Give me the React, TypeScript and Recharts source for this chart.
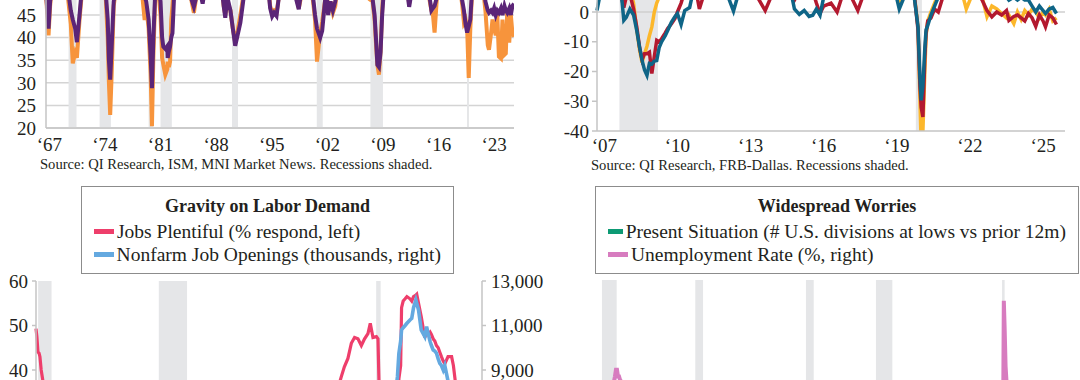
import React from 'react';
import { LineChart, Line, XAxis, YAxis, CartesianGrid, ReferenceArea, ReferenceLine, Legend } from 'recharts';

const FONT = "'Liberation Serif', 'Times New Roman', serif";
const INK = '#231f20';
const AXIS = '#c4c4c4';
const SHADE = '#e5e6e8';

// NBER recessions, decimal years
const recessionStart = [1969.92, 1973.83, 1980.0, 1981.5, 1990.5, 2001.17, 2007.92, 2020.08];
const recessionEnd = [1970.92, 1975.25, 1980.58, 1982.92, 1991.25, 2001.92, 2009.5, 2020.33];

// top left: ISM panel (orange / purple)
const tlTickYears = [1967, 1974, 1981, 1988, 1995, 2002, 2009, 2016, 2023];
const tlYears = [
  1967.1, 1967.25, 1967.4, 1967.6, 1967.9, 1968.5, 1969.2, 1969.6, 1969.9, 1970.2,
  1970.45, 1970.75, 1970.97, 1971.3, 1971.6, 1972.3, 1972.9, 1973.5, 1974.2, 1974.6,
  1974.85, 1975.0, 1975.16, 1975.35, 1975.6, 1976.0, 1976.8, 1977.5, 1978.3, 1979.0,
  1979.5, 1979.7, 1980.0, 1980.25, 1980.42, 1980.6, 1980.83, 1981.2, 1981.5, 1981.7,
  1981.85, 1982.1, 1982.35, 1982.4, 1982.55, 1982.7, 1982.85, 1983.0, 1983.2, 1983.8,
  1984.6, 1985.3, 1985.7, 1986.0, 1986.5, 1986.8, 1987.2, 1987.8, 1988.5, 1989.2,
  1989.45, 1989.65, 1989.9, 1990.3, 1990.6, 1990.9, 1991.2, 1991.55, 1991.9, 1992.2,
  1993.0, 1993.6, 1994.3, 1995.0, 1995.3, 1995.55, 1995.8, 1996.1, 1996.4, 1997.0,
  1997.8, 1998.5, 1998.9, 1999.2, 1999.8, 2000.4, 2000.7, 2000.95, 2001.2, 2001.4,
  2001.6, 2001.85, 2002.2, 2002.4, 2002.6, 2002.9, 2003.2, 2003.5, 2003.8, 2004.5,
  2005.5, 2006.5, 2007.3, 2007.8, 2008.2, 2008.45, 2008.65, 2008.8, 2009.0, 2009.2,
  2009.4, 2009.6, 2010.2, 2011.0, 2011.8, 2012.5, 2012.8, 2013.1, 2013.8, 2014.6,
  2015.3, 2015.6, 2015.8, 2016.0, 2016.3, 2016.8, 2017.6, 2018.5, 2019.2, 2019.5,
  2019.7, 2019.9, 2020.1, 2020.3, 2020.5, 2020.7, 2021.0, 2021.6, 2022.1, 2022.4,
  2022.7, 2022.85, 2023.1, 2023.3, 2023.5, 2023.7, 2023.9, 2024.1, 2024.35, 2024.55,
  2024.8, 2024.97, 2025.15, 2025.4, 2025.6, 2025.8, 2026.0,
];
const tlOrange = [
  49, 45, 40.5, 47, 53, 56, 58, 52, 48, 43,
  34.3, 36.6, 35.5, 43.9, 50, 57, 60, 62, 58, 49,
  40, 30, 22.9, 32, 47, 52, 55, 57, 56, 53,
  43.9, 47, 42, 32, 20.4, 36, 49, 51, 45, 35.5,
  34, 31.8, 33, 34.7, 33.5, 34.7, 43.9, 47, 52, 60,
  55, 49, 45.5, 49, 51, 48, 52, 57, 58, 52,
  47, 45, 48, 46, 42, 39, 41.5, 45, 49, 53,
  52, 50, 56, 53, 47, 45.5, 46, 45.5, 49, 52,
  54, 50, 46.5, 49, 53, 52, 48, 44, 34.7, 38,
  41, 43.5, 48, 51, 45.5, 48, 45.5, 47, 52, 58,
  55, 52, 50, 48.5, 48, 44, 38, 34, 31.8, 37,
  46, 52, 58, 62, 54, 52, 47.5, 51, 55, 57,
  49, 46, 45, 41.1, 49, 52, 57, 56, 51, 47,
  43.3, 44, 42, 31.1, 42, 49, 53, 55, 51, 46,
  38.3, 37.3, 40.8, 44, 42, 40.5, 45, 35.8, 35.4, 44,
  36.2, 36.5, 46, 38.9, 45, 41, 40.2,
];
const tlPurple = [
  50, 46, 42, 48, 52, 55, 57, 53, 50, 46,
  44, 42, 39, 45, 51, 56, 58, 60, 57, 50,
  44, 35, 30.7, 38, 48, 52, 54, 56, 55, 54,
  49, 48, 44, 36, 28.8, 40, 50, 52, 48, 40,
  38, 37.5, 38.1, 35.5, 37, 38, 40, 41, 49, 58,
  54, 49, 46.8, 49, 50, 47.5, 52, 56, 57, 51,
  47, 44.4, 49, 46, 42, 38.2, 40.5, 43.3, 48, 52,
  51, 50, 55, 52, 46.5, 44.7, 45.5, 44.8, 49, 52,
  53, 49, 46.3, 50, 53, 51, 49, 45, 42, 41,
  40, 41.5, 48, 50, 45, 48, 46, 48, 52, 57,
  54, 52, 50, 49, 48.5, 45, 39, 34, 33.5, 36.8,
  45, 50, 56, 60, 53, 51, 46.8, 50, 54, 56,
  50, 46, 46.5, 47, 49, 51, 56, 55, 51, 48,
  46, 43, 41.1, 42.5, 44, 50, 54, 56, 53, 48,
  46, 45.5, 46, 45.5, 46.5, 45, 46, 45.5, 46.5, 45,
  47, 46, 45.5, 46.5, 45, 47, 47.5,
];

// top right: FRB-Dallas panel (yellow / red / teal)
const trTickYears = [2007, 2010, 2013, 2016, 2019, 2022, 2025];
const trYears = [
  2007.0, 2007.2, 2007.5, 2007.8, 2008.0, 2008.1, 2008.2, 2008.35, 2008.5, 2008.63,
  2008.75, 2008.85, 2008.95, 2009.05, 2009.15, 2009.25, 2009.35, 2009.45, 2009.55, 2009.65,
  2009.8, 2009.9, 2010.05, 2010.2, 2010.3, 2010.45, 2010.6, 2010.8, 2011.0, 2011.2,
  2011.5, 2011.8, 2012.2, 2012.6, 2012.9, 2013.3, 2013.9, 2014.4, 2014.9, 2015.1,
  2015.3, 2015.5, 2015.7, 2015.85, 2016.0, 2016.15, 2016.3, 2016.6, 2016.85, 2017.2,
  2017.7, 2018.2, 2018.8, 2019.2, 2019.4, 2019.7, 2020.0, 2020.17, 2020.25, 2020.3,
  2020.37, 2020.45, 2020.5, 2020.57, 2020.7, 2020.85, 2021.0, 2021.3, 2021.8, 2022.15,
  2022.5, 2022.8, 2023.0, 2023.2, 2023.4, 2023.6, 2023.8, 2023.9, 2024.1, 2024.25,
  2024.4, 2024.55, 2024.7, 2024.85, 2025.0, 2025.15, 2025.3, 2025.4, 2025.55, 2025.7,
  2025.85,
];
const trYellow = [
  10, 14, 12, 10, 9, 8, 9, 8, 3, -6,
  -13, -17, -14, -11.5, -8, -5, 0, 3, 5, 6,
  7, 5, 6, 8, 9, 10, 9, 10, 12, 14,
  12, 11, 10, 9, 10, 11, 12, 14, 11, 7,
  8, 9, 8, 9, 8, 7, 9, 11, 10, 12,
  12, 14, 12, 9, 3.5, 8, 7, -5, -30, -44,
  -40, -20, -8, -3, 0, 3, 6, 10, 12, 1,
  8, 5, -1.6, 2, 1, -0.5, -2, -1, -3.9, 0,
  -2.5, 0.5, -1, 1, 0, -2, 0, -1, 1, -3,
  -2,
];
const trRed = [
  9, 12, 11, 8, 5, 1.5, 5, 6, 1, -5,
  -12, -16, -14, -14, -13.5, -20.7, -15, -9.5, -10, -9,
  -7, -5.5, -4, -2.2, 0, 3, 7, 9, 10, 1,
  9, 10, 9, 8, 9, 9, 0.5, 10, 9, 4,
  7, 6, 5, 7, 3, -0.5, 2, 3, 0, 9,
  0.5, 12, 10, 9, 6, 8, 7, -6, -25, -32,
  -35.3, -15, -7.2, -3, -2, 1, 0, 8, 10, 9,
  8, 4, 0.5, -1.6, 0, -1, 0.5, -2.8, -1.5, -1,
  -2, -3, -0.5, -2, -4.8, -1, -3, -5, -1, -2,
  -4.2,
];
const trTeal = [
  0.5, 9, 10, 8, 6, -2.8, -1.8, 1, -1, -6.2,
  -12, -16.3, -19.5, -21.3, -17.3, -17.5, -16.5, -16.3, -12, -10,
  -8, -6.2, -3.5, -1.5, -0.5, -4.2, 0.5, 1.5, 9, 10,
  9, 10, 9, 0.3, 9, 10, 9, 12, 9, 1,
  -0.8, 0.5, -1.5, -1.1, 1, -1.1, 5, 8, 7, 10,
  10, 12, 11, 8, 1, 7, 6, -5, -22, -29.7,
  -25, -12, -6, -4.5, -1, 2, 5, 9, 11, 9,
  9, 7, 6, 7, 5, 6, 5, 4, 5, 4,
  5, 4, 4, 2, 0, 2, 0.5, -0.5, 1, 1.5,
  -0.5,
];

// bottom left: Gravity on Labor Demand
const blTickYears = [2001, 2004, 2007, 2010, 2013, 2016, 2019, 2022, 2025];
const blYears = [
  2001.05, 2001.1, 2001.16, 2001.22, 2001.27, 2001.34, 2001.42, 2001.6, 2001.9, 2002.4,
  2003.0, 2003.8, 2004.5, 2005.5, 2006.5, 2007.3, 2007.9, 2008.5, 2009.2, 2009.6,
  2010.5, 2011.5, 2012.5, 2013.5, 2014.5, 2015.5, 2016.5, 2017.5, 2017.95, 2018.13,
  2018.3, 2018.5, 2018.69, 2018.87, 2019.06, 2019.25, 2019.43, 2019.62, 2019.75, 2019.9,
  2020.09, 2020.18, 2020.28, 2020.4, 2020.7, 2021.0, 2021.27, 2021.35, 2021.45, 2021.5,
  2021.59, 2021.7, 2021.8, 2021.97, 2022.07, 2022.17, 2022.3, 2022.35, 2022.45, 2022.6,
  2022.8, 2022.9, 2023.0, 2023.1, 2023.17, 2023.27, 2023.36, 2023.45, 2023.55, 2023.64,
  2023.73, 2023.83, 2023.92, 2024.1, 2024.3, 2024.4, 2024.55, 2024.8, 2025.1, 2025.4,
  2025.8,
];
const blJobsPlentiful = [
  49.3, 47.5, 44, 43.8, 43, 40, 38, 33, 26, 19,
  13, 11, 15, 20, 25, 28, 24, 15, 6, 4,
  4.5, 6, 8, 11, 15, 22, 25, 30, 36, 38.5,
  40.7, 42.6, 46, 47.3, 47, 45.5, 47, 48.2, 50.5, 47.3,
  47.5, 47, 30, 19, 20, 24, 33, 38, 41, 54,
  55.5, 56, 56.5, 56, 55.5, 56.5, 56.8, 57, 55, 52,
  47.3, 48.5, 48, 48.5, 48, 47, 46.5, 45.5, 45, 44,
  43, 42, 41.4, 43, 43, 41, 36, 34, 32, 31,
  29,
];
const blJobOpenings = [
  4800, 4700, 4600, 4500, 4400, 4200, 4000, 3800, 3500, 3300,
  3200, 3100, 3500, 3900, 4300, 4500, 4400, 3700, 2700, 2300,
  2800, 3100, 3600, 3900, 4800, 5500, 5600, 6000, 6500, 6700,
  6900, 7000, 7200, 7400, 7300, 7300, 7400, 7200, 7300, 7000,
  6900, 6800, 5000, 4600, 6200, 6800, 8700, 9750, 10300, 10800,
  10900, 11000, 11100, 11250, 11320, 11800, 12150, 12000, 11700, 10800,
  10500, 10950, 10600, 10270, 10100, 9900, 9850, 9760, 9500, 9300,
  9200, 9000, 9200, 8500, 8300, 8200, 8000, 7700, 7600, 7400,
  7200,
];

// bottom right: Widespread Worries
const brTickYears = [1982, 1989, 1996, 2003, 2010, 2017, 2024];
const brYears = [
  1980.54, 1981.0, 1981.5, 1981.9, 1982.2, 1982.5, 1982.65, 1982.75, 1982.85, 1982.95,
  1983.05, 1983.15, 1983.25, 1983.4, 1983.55, 1984.0, 1985.0, 1986.0, 1987.0, 1988.0,
  1989.0, 1990.0, 1990.8, 1991.5, 1992.5, 1993.5, 1994.5, 1995.5, 1997.0, 1998.5,
  2000.0, 2001.5, 2002.5, 2003.5, 2004.5, 2006.0, 2007.0, 2008.0, 2008.9, 2009.5,
  2009.8, 2010.5, 2011.5, 2012.5, 2013.5, 2014.5, 2015.5, 2016.5, 2017.5, 2018.5,
  2019.5, 2020.15, 2020.25, 2020.33, 2020.42, 2020.5, 2020.7, 2021.0, 2021.5, 2022.0,
  2022.5, 2023.5, 2024.5, 2025.5, 2025.86,
];
const brUnemployment = [
  7.8, 7.5, 7.2, 8.3, 9.0, 9.6, 10.1, 10.4, 10.8, 10.8,
  10.4, 10.4, 10.2, 10.1, 9.4, 8.0, 7.3, 6.9, 6.6, 5.7,
  5.4, 5.4, 6.2, 6.8, 7.8, 6.9, 6.1, 5.6, 5.2, 4.5,
  4.0, 4.6, 5.8, 6.3, 5.5, 4.7, 4.5, 5.0, 6.8, 9.5,
  9.9, 9.4, 9.0, 8.2, 7.5, 6.2, 5.3, 4.9, 4.3, 3.8,
  3.6, 4.4, 14.8, 13.2, 11.0, 10.2, 7.8, 6.4, 5.9, 4.0,
  3.6, 3.6, 4.2, 4.2, 4.3,
];
const brPresent = [
  6, 5, 7, 8, 8, 7, 7, 6, 6, 5,
  5, 4, 4, 3, 3, 2, 2, 2, 3, 1,
  1, 2, 4, 6, 5, 3, 2, 1, 1, 1,
  1, 4, 5, 4, 2, 1, 1, 3, 7, 8,
  7, 5, 3, 2, 2, 1, 2, 3, 1, 1,
  1, 2, 9, 8, 6, 5, 4, 2, 1, 1,
  1, 2, 3, 4, 4,
];

const tlData = tlYears.map((year, i) => ({ year, orange: tlOrange[i], purple: tlPurple[i] }));
const trData = trYears.map((year, i) => ({ year, yellow: trYellow[i], red: trRed[i], teal: trTeal[i] }));
const blData = blYears.map((year, i) => ({ year, plentiful: blJobsPlentiful[i], openings: blJobOpenings[i] }));
const brData = brYears.map((year, i) => ({ year, present: brPresent[i], unemp: brUnemployment[i] }));

const yearLabel = (v: number) => '\u2018' + String(Math.floor(v)).slice(2);
const tickStyle = { fill: INK, fontSize: 19, fontFamily: FONT };

const recessionAreas = (yAxisId?: string) =>
  recessionStart.map((start, i) => (
    <ReferenceArea
      key={`rec-${i}`}
      x1={start}
      x2={recessionEnd[i]}
      yAxisId={yAxisId}
      fill={SHADE}
      fillOpacity={1}
      stroke="none"
      ifOverflow="discard"
    />
  ));

const BoxLegend = ({ title, payload }: { title: string; payload?: any[] }) => (
  <div
    style={{
      boxSizing: 'border-box',
      height: 88,
      border: '1.5px solid #8c8c8c',
      background: '#fff',
      padding: '7px 12px 0',
      fontFamily: FONT,
      color: INK,
    }}
  >
    <div style={{ textAlign: 'center', fontWeight: 700, fontSize: 18, lineHeight: '24px', marginBottom: 2 }}>{title}</div>
    {(payload || []).map((p) => (
      <div key={p.value} style={{ display: 'flex', alignItems: 'center', fontSize: 19.5, lineHeight: '23px', whiteSpace: 'nowrap' }}>
        <span style={{ display: 'inline-block', width: 20, height: 4.5, background: p.color, marginRight: 3 }} />
        {p.value}
      </div>
    ))}
  </div>
);

const sourceStyle: React.CSSProperties = {
  position: 'absolute',
  fontFamily: FONT,
  fontSize: 14.6,
  lineHeight: '16px',
  color: INK,
  whiteSpace: 'nowrap',
};

export default function App() {
  return (
    <div style={{ position: 'absolute', left: 0, top: 0, width: 1080, height: 380, overflow: 'hidden', background: '#fff' }}>
      {/* top left */}
      <div style={{ position: 'absolute', left: 0, top: -98 }}>
        <LineChart width={514} height={256} data={tlData} margin={{ top: 0, right: 0, bottom: 0, left: 0 }}>
          <CartesianGrid vertical={false} stroke="#d4d4d4" strokeWidth={1.5} />
          {recessionAreas()}
          <XAxis
            type="number"
            dataKey="year"
            domain={[1967.08, 2026]}
            ticks={tlTickYears.map((y) => y + 0.5)}
            tickFormatter={yearLabel}
            interval={0}
            height={30}
            axisLine={{ stroke: AXIS, strokeWidth: 1.5 }}
            tickLine={false}
            tickSize={0}
            tickMargin={10}
            tick={tickStyle}
          />
          <YAxis
            domain={[20, 70]}
            ticks={[20, 25, 30, 35, 40, 45, 50, 55, 60, 65, 70]}
            width={46}
            interval={0}
            axisLine={{ stroke: AXIS, strokeWidth: 1.5 }}
            tickLine={false}
            tickSize={0}
            tickMargin={10}
            tick={tickStyle}
          />
          <Line dataKey="orange" name="Orange" stroke="#f7943c" strokeWidth={4} dot={false} activeDot={false} isAnimationActive={false} />
          <Line dataKey="purple" name="Purple" stroke="#5b2577" strokeWidth={4} dot={false} activeDot={false} isAnimationActive={false} />
        </LineChart>
      </div>
      <div style={{ ...sourceStyle, left: 40, top: 156 }}>Source: QI Research, ISM, MNI Market News. Recessions shaded.</div>

      {/* top right */}
      <div style={{ position: 'absolute', left: 540, top: -107 }}>
        <LineChart width={525} height={268} data={trData} margin={{ top: 0, right: 0, bottom: 0, left: 0 }}>
          {recessionAreas()}
          <ReferenceLine y={0} stroke="#cfcfcf" strokeWidth={1.5} />
          <XAxis
            type="number"
            dataKey="year"
            domain={[2007, 2026.2]}
            ticks={trTickYears.map((y) => y + 0.3)}
            tickFormatter={yearLabel}
            interval={0}
            height={30}
            axisLine={{ stroke: AXIS, strokeWidth: 1.5 }}
            tickLine={false}
            tickSize={0}
            tickMargin={8}
            tick={tickStyle}
          />
          <YAxis
            domain={[-40, 40]}
            ticks={[-40, -30, -20, -10, 0, 10, 20, 30, 40]}
            allowDataOverflow
            width={57}
            interval={0}
            axisLine={{ stroke: AXIS, strokeWidth: 1.5 }}
            tickLine={{ stroke: AXIS, strokeWidth: 1.5 }}
            tickSize={5}
            tickMargin={3}
            tick={tickStyle}
          />
          <Line dataKey="yellow" name="Yellow" stroke="#fcb72b" strokeWidth={3.5} dot={false} activeDot={false} isAnimationActive={false} />
          <Line dataKey="red" name="Red" stroke="#b3192f" strokeWidth={3.5} dot={false} activeDot={false} isAnimationActive={false} />
          <Line dataKey="teal" name="Teal" stroke="#0f6587" strokeWidth={3.5} dot={false} activeDot={false} isAnimationActive={false} />
        </LineChart>
      </div>
      <div style={{ ...sourceStyle, left: 591, top: 157 }}>Source: QI Research, FRB-Dallas. Recessions shaded.</div>

      {/* bottom left */}
      <div style={{ position: 'absolute', left: 0, top: 180 }}>
        <LineChart width={548} height={398} data={blData} margin={{ top: 101, right: 8, bottom: 0, left: 0 }}>
          {recessionAreas('left')}
          <XAxis
            type="number"
            dataKey="year"
            domain={[2001.05, 2026]}
            ticks={blTickYears}
            tickFormatter={yearLabel}
            interval={0}
            height={30}
            axisLine={{ stroke: AXIS }}
            tickLine={false}
            tick={tickStyle}
          />
          <YAxis
            yAxisId="left"
            domain={[0, 60]}
            ticks={[0, 10, 20, 30, 40, 50, 60]}
            width={36}
            interval={0}
            axisLine={{ stroke: AXIS, strokeWidth: 1.5 }}
            tickLine={{ stroke: AXIS, strokeWidth: 1.5 }}
            tickSize={4}
            tickMargin={4}
            tick={tickStyle}
          />
          <YAxis
            yAxisId="right"
            orientation="right"
            domain={[1000, 13000]}
            ticks={[1000, 3000, 5000, 7000, 9000, 11000, 13000]}
            tickFormatter={(v: number) => v.toLocaleString('en-US')}
            width={58}
            interval={0}
            axisLine={{ stroke: AXIS, strokeWidth: 1.5 }}
            tickLine={{ stroke: AXIS, strokeWidth: 1.5 }}
            tickSize={4}
            tickMargin={5}
            tick={tickStyle}
          />
          <Legend
            layout="vertical"
            align="center"
            verticalAlign="middle"
            wrapperStyle={{ left: 81, top: 6, width: 373 }}
            content={(props: any) => <BoxLegend title="Gravity on Labor Demand" payload={props.payload} />}
          />
          <Line yAxisId="left" dataKey="plentiful" name="Jobs Plentiful (% respond, left)" stroke="#ee3e6b" strokeWidth={3.2} dot={false} activeDot={false} isAnimationActive={false} />
          <Line yAxisId="right" dataKey="openings" name="Nonfarm Job Openings (thousands, right)" stroke="#64a9e0" strokeWidth={3.6} dot={false} activeDot={false} isAnimationActive={false} />
        </LineChart>
      </div>

      {/* bottom right */}
      <div style={{ position: 'absolute', left: 540, top: 180 }}>
        <LineChart width={530} height={406} data={brData} margin={{ top: 100, right: 8, bottom: 0, left: 0 }}>
          {recessionAreas('left')}
          <XAxis
            type="number"
            dataKey="year"
            domain={[1980.54, 2025.86]}
            ticks={brTickYears}
            tickFormatter={yearLabel}
            interval={0}
            height={30}
            axisLine={{ stroke: AXIS }}
            tickLine={false}
            tick={tickStyle}
          />
          <YAxis
            yAxisId="left"
            domain={[0, 16]}
            ticks={[0, 2, 4, 6, 8, 10, 12, 14, 16]}
            width={52}
            interval={0}
            axisLine={{ stroke: AXIS, strokeWidth: 1.5 }}
            tickLine={{ stroke: AXIS, strokeWidth: 1.5 }}
            tickSize={4}
            tickMargin={3}
            tick={tickStyle}
          />
          <YAxis yAxisId="divisions" hide domain={[0, 30]} />
          <Legend
            layout="vertical"
            align="center"
            verticalAlign="middle"
            wrapperStyle={{ left: 55, top: 6, width: 484 }}
            content={(props: any) => <BoxLegend title="Widespread Worries" payload={props.payload} />}
          />
          <Line yAxisId="divisions" dataKey="present" name="Present Situation (# U.S. divisions at lows vs prior 12m)" stroke="#0d9a74" strokeWidth={3.5} dot={false} activeDot={false} isAnimationActive={false} />
          <Line yAxisId="left" dataKey="unemp" name="Unemployment Rate (%, right)" stroke="#d77cbf" strokeWidth={4} dot={false} activeDot={false} isAnimationActive={false} />
        </LineChart>
      </div>
    </div>
  );
}
